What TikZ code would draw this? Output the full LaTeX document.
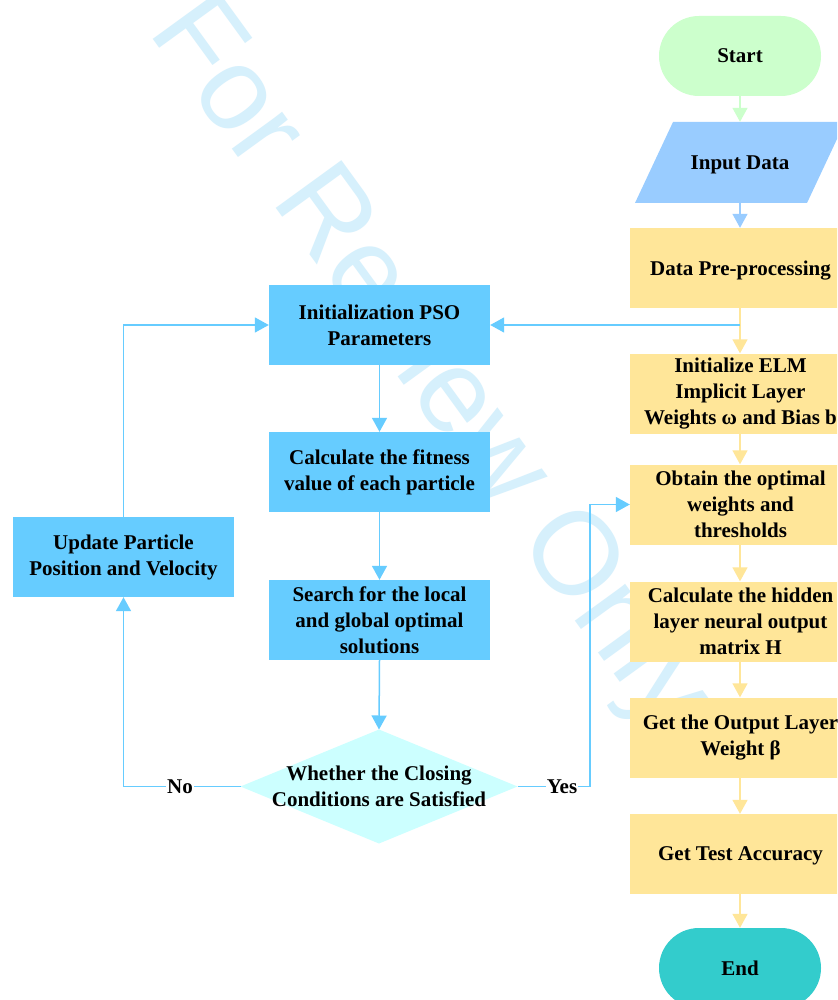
\documentclass[tikz,border=0pt]{standalone}
\usepackage{fontspec}
\setmainfont{Liberation Serif}
\newfontfamily\wmfont{Liberation Sans}
\usetikzlibrary{arrows.meta,shapes.geometric,shapes.misc}
\definecolor{cgreen}{HTML}{CCFFCC}
\definecolor{cinput}{HTML}{99CCFF}
\definecolor{corange}{HTML}{FFE699}
\definecolor{cblue}{HTML}{66CCFF}
\definecolor{cdiam}{HTML}{CCFFFF}
\definecolor{cend}{HTML}{33CCCC}
\definecolor{cwm}{HTML}{D6F0FC}
\tikzset{
  txt/.style={font=\fontsize{21}{26}\selectfont\bfseries, align=center, inner sep=0pt},
  pbox/.style={txt, fill=cblue, minimum width=221pt, minimum height=80pt},
  obox/.style={txt, fill=corange, minimum width=221pt, minimum height=80pt},
  term/.style={txt, rounded rectangle, minimum width=162pt, minimum height=80pt},
  conn/.style={line width=1.5pt, -{Triangle[width=15pt,length=14pt]}},
  plain/.style={line width=1.5pt},
  lbl/.style={txt, fill=white, inner sep=1pt},
  oneline/.style={text depth=0pt},
}
\begin{document}
\begin{tikzpicture}[x=1pt,y=-1pt]
\useasboundingbox (0,0) rectangle (837,1000);
\clip (0,0) rectangle (837,1000);
\fill[white] (0,0) rectangle (837,1000);
% watermark
\node[font=\wmfont\fontsize{118}{118}\selectfont, text=cwm, rotate=-54, inner sep=0pt] (wm) at (428,366) {For Review Only};
% right column
\node[term, fill=cgreen] (start) at (740,56) {Start};
\node[txt, oneline, minimum width=172pt, minimum height=81pt] (input) at (740,162.5) {};
\fill[cinput] (673,122) -- (845,122) -- (807,203) -- (635,203) -- cycle;
\node[txt, oneline] (inputtxt) at (input) {Input Data};
\node[obox, oneline] (pre) at (740.5,268) {Data Pre-processing};
\node[obox] (elm) at (740.5,393.5) {Initialize ELM\\Implicit Layer\\Weights ω and Bias b};
\node[obox] (opt) at (740.5,504.5) {Obtain the optimal\\weights and\\thresholds};
\node[obox] (hid) at (740.5,621.5) {Calculate the hidden\\layer neural output\\matrix H};
\node[obox] (out) at (740.5,737.5) {Get the Output Layer\\Weight β};
\node[obox, oneline] (acc) at (740.5,854) {Get Test Accuracy};
\node[term, fill=cend] (end) at (740,968) {End};
% left part
\node[pbox] (pso) at (379.5,325) {Initialization PSO\\Parameters};
\node[pbox] (fit) at (379.5,472) {Calculate the fitness\\value of each particle};
\node[pbox] (srch) at (379.5,620) {Search for the local\\and global optimal\\solutions};
\coordinate (dtop) at (379,729.5);
\coordinate (dright) at (517.5,786.5);
\coordinate (dbot) at (379,843.5);
\coordinate (dleft) at (240.5,786.5);
\fill[cdiam] (dtop) -- (dright) -- (dbot) -- (dleft) -- cycle;
\node[txt] (dec) at (379,786.5) {Whether the Closing\\Conditions are Satisfied};
\node[pbox] (upd) at (123.5,557) {Update Particle\\Position and Velocity};
% connectors right column
\draw[conn, cgreen] (start.south) -- (start.south |- input.north);
\draw[conn, cinput] (input.south) -- (input.south |- pre.north);
\coordinate (br) at (740,325);
\draw[plain, corange] (pre.south -| br) -- (br);
\draw[conn, corange] (br) -- (br |- elm.north);
\draw[conn, cblue] (br) -- (pso.east);
\draw[conn, corange] (elm.south -| br) -- (opt.north -| br);
\draw[conn, corange] (opt.south -| br) -- (hid.north -| br);
\draw[conn, corange] (hid.south -| br) -- (out.north -| br);
\draw[conn, corange] (out.south -| br) -- (acc.north -| br);
\draw[conn, corange] (acc.south -| br) -- (end.north -| br);
% connectors left
\draw[conn, cblue] (pso.south) -- (fit.north);
\draw[conn, cblue] (fit.south) -- (srch.north);
\draw[conn, cblue] (srch.south) -- (dtop);
\coordinate (yc) at (590,786.5);
\draw[conn, cblue] (dright) -- (yc) -- (yc |- opt.west) -- (opt.west);
\node[lbl] (yes) at (562,786.5) {Yes};
\coordinate (nc) at (123.5,786.5);
\draw[conn, cblue] (dleft) -- (nc) -- (upd.south);
\node[lbl] (no) at (180,786.5) {No};
\draw[conn, cblue] (upd.north) -- (upd.north |- pso.west) -- (pso.west);
\end{tikzpicture}
\end{document}
